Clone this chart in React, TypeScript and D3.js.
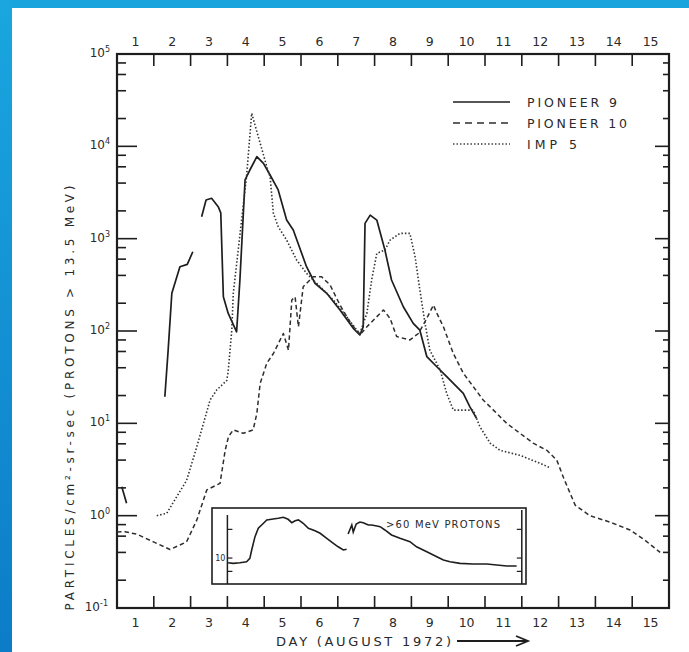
import * as d3 from 'd3';

// day-of-month labels sit in the middle of each day, ticks at day boundaries
const DAY_LABELS = [1, 2, 3, 4, 5, 6, 7, 8, 9, 10, 11, 12, 13, 14, 15];
const DAY_TICKS = [1.5, 2.5, 3.5, 4.5, 5.5, 6.5, 7.5, 8.5, 9.5, 10.5, 11.5, 12.5, 13.5, 14.5];
const DECADES = [-1, 0, 1, 2, 3, 4, 5];
const MINOR_STEPS = [2, 4, 6, 8];
const SERIES_NAMES = ['PIONEER 9', 'PIONEER 10', 'IMP 5'];

// [day, particles/cm2-sr-sec]
const PIONEER9_A: [number, number][] = [[0.63, 2.06], [0.76, 1.36]];
const PIONEER9_B: [number, number][] = [
  [1.8, 19.4], [1.89, 62], [1.99, 256], [2.21, 497], [2.41, 527], [2.56, 722],
];
const PIONEER9_C: [number, number][] = [
  [2.8, 1730], [2.92, 2620], [3.07, 2740], [3.25, 2220], [3.32, 1900], [3.39, 235],
  [3.52, 156], [3.75, 98], [3.84, 357], [3.98, 4320], [4.11, 5540], [4.3, 7720],
  [4.48, 6550], [4.66, 4890], [4.88, 3370], [5.11, 1590], [5.29, 1240], [5.65, 497],
  [5.88, 329], [6.2, 256], [6.56, 169], [6.92, 107], [7.1, 90.5], [7.19, 111],
  [7.24, 1466], [7.38, 1800], [7.56, 1590], [7.78, 753], [7.96, 357], [8.28, 183],
  [8.55, 121], [8.73, 102], [8.92, 52.7], [9.19, 41], [9.46, 32], [9.91, 21.1],
  [10.09, 15.1], [10.27, 11.3],
];
const PIONEER10: [number, number][] = [
  [0.5, 0.665], [0.72, 0.67], [1.04, 0.63], [1.49, 0.52], [1.94, 0.43], [2.39, 0.52],
  [2.67, 0.9], [2.94, 1.9], [3.21, 2.15], [3.3, 2.24], [3.44, 5.1], [3.53, 7.2],
  [3.66, 8.5], [3.93, 7.8], [4.2, 8.5], [4.3, 12.8], [4.39, 27], [4.57, 44.7],
  [4.75, 57], [5.02, 94], [5.16, 62], [5.25, 217], [5.34, 234], [5.43, 111],
  [5.56, 302], [5.83, 387], [6.06, 387], [6.29, 315], [6.56, 191], [6.83, 125],
  [7.1, 90.5], [7.29, 111], [7.74, 169], [7.92, 137], [8.1, 87], [8.46, 80],
  [8.69, 94], [8.87, 126], [9.1, 191], [9.19, 156], [9.37, 111], [9.64, 57],
  [9.91, 35], [10.18, 25], [10.45, 17.9], [10.73, 13.9], [11.09, 10], [11.45, 7.8],
  [11.81, 6.1], [12.18, 5.1], [12.45, 4.0], [12.63, 2.6], [12.95, 1.3], [13.35, 1.0],
  [13.9, 0.85], [14.44, 0.7], [14.85, 0.54], [15.26, 0.4],
];
const IMP5: [number, number][] = [
  [1.58, 1.0], [1.85, 1.06], [2.12, 1.6], [2.39, 2.4], [2.67, 5.6], [3.03, 17.9],
  [3.21, 23], [3.48, 29], [3.52, 36], [3.62, 103], [3.66, 256], [4.02, 4690],
  [4.16, 22800], [4.57, 6030], [4.66, 4690], [4.75, 1880], [4.88, 1350], [5.11, 966],
  [5.38, 588], [5.65, 422], [5.83, 357], [6.02, 302], [6.38, 217], [6.74, 143],
  [7.01, 103], [7.1, 94], [7.29, 156], [7.42, 357], [7.56, 693], [7.78, 753],
  [7.92, 966], [8.19, 1140], [8.46, 1140], [8.6, 638], [8.73, 278], [8.87, 121],
  [9.0, 62], [9.28, 38], [9.46, 21], [9.64, 13.9], [9.91, 13.9], [10.18, 13.9],
  [10.36, 9.2], [10.64, 6.1], [10.91, 5.1], [11.45, 4.5], [11.99, 3.7], [12.27, 3.3],
];

// inset: >60 MeV protons (relative units, "10" marked)
const INSET_A: [number, number][] = [
  [3.52, 8.35], [3.66, 8.16], [3.84, 8.35], [4.02, 8.68], [4.11, 9.9], [4.16, 13.6],
  [4.25, 22.7], [4.34, 31.3], [4.48, 37.9], [4.57, 43], [4.7, 44.1], [4.88, 45.9],
  [5.02, 47.7], [5.15, 44.1], [5.25, 38.8], [5.34, 41.8], [5.43, 43], [5.56, 37.9],
  [5.7, 31.3], [5.88, 28.5], [6.02, 25.8], [6.2, 21.3], [6.38, 17.6], [6.51, 15.4],
  [6.65, 13.6], [6.74, 14],
];
const INSET_B: [number, number][] = [
  [6.78, 25.1], [6.88, 35.5], [6.92, 27.1], [7.0, 36.9], [7.1, 39.8], [7.19, 38.8],
  [7.33, 35.5], [7.42, 35.5], [7.56, 34.1], [7.65, 33.3], [7.78, 29.3], [7.96, 24.2],
  [8.19, 21.3], [8.46, 18.7], [8.64, 15.4], [8.82, 13.6], [9.0, 12], [9.19, 10.5],
  [9.37, 9.26], [9.55, 8.68], [9.82, 8.16], [10.18, 7.94], [10.55, 7.94], [10.82, 7.64],
  [11.09, 7.36], [11.36, 7.36],
];
const INSET_TICKS = [6, 10, 30];
const INSET_LABEL = 10;

const W = 689;
const H = 652;
const left = 117;
const right = 669;
const top = 54;
const bottom = 608;
const ink = '#1e1e1e';
const font = '"DejaVu Sans", sans-serif';

const App = () => {
  const x = d3.scaleLinear().domain([0.5, 15.5]).range([left, right]);
  const y = d3.scaleLog().domain([0.1, 1e5]).range([bottom, top]);
  const insetY = d3.scaleLog().domain([3.7, 68]).range([584, 508]);

  const line = d3
    .line<[number, number]>()
    .x((d) => x(d[0]))
    .y((d) => y(d[1]));
  const insetLine = d3
    .line<[number, number]>()
    .x((d) => x(d[0]))
    .y((d) => insetY(d[1]));

  const minors = DECADES.slice(0, -1).flatMap((e) => MINOR_STEPS.map((m) => m * 10 ** e));

  const dashed = '4.5,3';
  const dotted = '1.5,2';

  return (
    <svg
      width={W}
      height={H}
      style={{ position: 'absolute', left: 0, top: 0, background: '#fff' }}
      fontFamily={font}
    >
      <defs>
        <linearGradient id='edge' x1='0' y1='0' x2='0' y2='1'>
          <stop offset='0' stopColor='#1aa6df' />
          <stop offset='1' stopColor='#0c7cc8' />
        </linearGradient>
      </defs>
      <rect x={0} y={0} width={W} height={8} fill='#19a4dd' />
      <rect x={0} y={0} width={12} height={H} fill='url(#edge)' />

      {/* day ticks, top and bottom; decade ticks left and right */}
      <g stroke={ink} strokeWidth={1.6}>
        {DAY_TICKS.map((d) => (
          <g key={d}>
            <line x1={x(d)} x2={x(d)} y1={top} y2={top + 12} />
            <line x1={x(d)} x2={x(d)} y1={bottom} y2={bottom - 12} />
          </g>
        ))}
        {DECADES.map((e) => (
          <g key={e}>
            <line x1={left} x2={left + 20} y1={y(10 ** e)} y2={y(10 ** e)} />
            <line x1={right} x2={right - 14} y1={y(10 ** e)} y2={y(10 ** e)} />
          </g>
        ))}
        {minors.map((v) => (
          <g key={v}>
            <line x1={left} x2={left + 9} y1={y(v)} y2={y(v)} />
            <line x1={right} x2={right - 6} y1={y(v)} y2={y(v)} />
          </g>
        ))}
      </g>
      <rect
        x={left}
        y={top}
        width={right - left}
        height={bottom - top}
        fill='none'
        stroke={ink}
        strokeWidth={2.2}
      />

      <g fill='#2a2a2a' fontSize={12.5} textAnchor='middle'>
        {DAY_LABELS.map((d) => (
          <g key={d}>
            <text x={x(d)} y={top - 8}>{d}</text>
            <text x={x(d)} y={bottom + 19}>{d}</text>
          </g>
        ))}
      </g>
      <g fill='#2a2a2a' fontSize={12} textAnchor='end'>
        {DECADES.map((e) => (
          <text key={e} x={e < 0 ? 108 : 110} y={y(10 ** e) + 3}>
            10
            <tspan dy={-5} fontSize={8}>{e}</tspan>
          </text>
        ))}
      </g>

      {/* axis titles */}
      <text
        transform={`translate(74,${398}) rotate(-90)`}
        textAnchor='middle'
        fontSize={12}
        fill='#2a2a2a'
        textLength={425}
        lengthAdjust='spacing'
      >
        PARTICLES/cm²-sr-sec    (PROTONS {'>'} 13.5 MeV)
      </text>
      <text x={276} y={646} fontSize={13} fill='#2a2a2a' textLength={175} lengthAdjust='spacing'>
        DAY (AUGUST 1972)
      </text>
      <line x1={457} x2={526} y1={641} y2={641} stroke={ink} strokeWidth={2} />
      <path d='M516,636 L528,641 L516,646' fill='none' stroke={ink} strokeWidth={1.8} />

      {/* series */}
      <g fill='none' stroke={ink} strokeLinejoin='round'>
        <path d={line(PIONEER9_A) ?? ''} strokeWidth={1.7} />
        <path d={line(PIONEER9_B) ?? ''} strokeWidth={1.7} />
        <path d={line(PIONEER9_C) ?? ''} strokeWidth={1.7} />
        <path d={line(PIONEER10) ?? ''} strokeWidth={1.5} strokeDasharray={dashed} stroke='#2e2e2e' />
        <path d={line(IMP5) ?? ''} strokeWidth={1.6} strokeDasharray={dotted} stroke='#333' />
      </g>

      {/* legend */}
      <g fontSize={12.5} fill='#2a2a2a'>
        {SERIES_NAMES.map((name, i) => {
          const ly = 102 + i * 21;
          return (
            <g key={name}>
              <line
                x1={453}
                x2={510}
                y1={ly}
                y2={ly}
                stroke={i === 0 ? ink : i === 1 ? '#2e2e2e' : '#444'}
                strokeWidth={i === 0 ? 1.7 : 1.5}
                strokeDasharray={i === 0 ? undefined : i === 1 ? '7,5' : dotted}
              />
              <text x={527} y={ly + 5} textLength={name.length * 10} lengthAdjust='spacing'>
                {name}
              </text>
            </g>
          );
        })}
      </g>

      {/* inset */}
      <g>
        <rect x={212} y={508} width={314} height={76} fill='#fff' stroke={ink} strokeWidth={1.6} />
        <line x1={x(3.5)} x2={x(3.5)} y1={515} y2={584} stroke={ink} strokeWidth={1.5} />
        <line x1={x(11.5)} x2={x(11.5)} y1={510} y2={584} stroke={ink} strokeWidth={1.5} />
        {INSET_TICKS.map((v) => (
          <g key={v} stroke={ink} strokeWidth={1.2}>
            <line x1={x(3.5)} x2={x(3.5) + 5} y1={insetY(v)} y2={insetY(v)} />
            <line x1={x(11.5)} x2={x(11.5) - 5} y1={insetY(v)} y2={insetY(v)} />
          </g>
        ))}
        <text x={x(3.5) - 2} y={insetY(INSET_LABEL) + 3} fontSize={8} textAnchor='end' fill='#2a2a2a'>
          {INSET_LABEL}
        </text>
        <path d={insetLine(INSET_A) ?? ''} fill='none' stroke={ink} strokeWidth={1.6} />
        <path d={insetLine(INSET_B) ?? ''} fill='none' stroke={ink} strokeWidth={1.6} />
        <text x={386} y={528} fontSize={10} fill='#2a2a2a' textLength={114} lengthAdjust='spacing'>
          {'>'}60 MeV PROTONS
        </text>
      </g>
    </svg>
  );
};

export default App;
